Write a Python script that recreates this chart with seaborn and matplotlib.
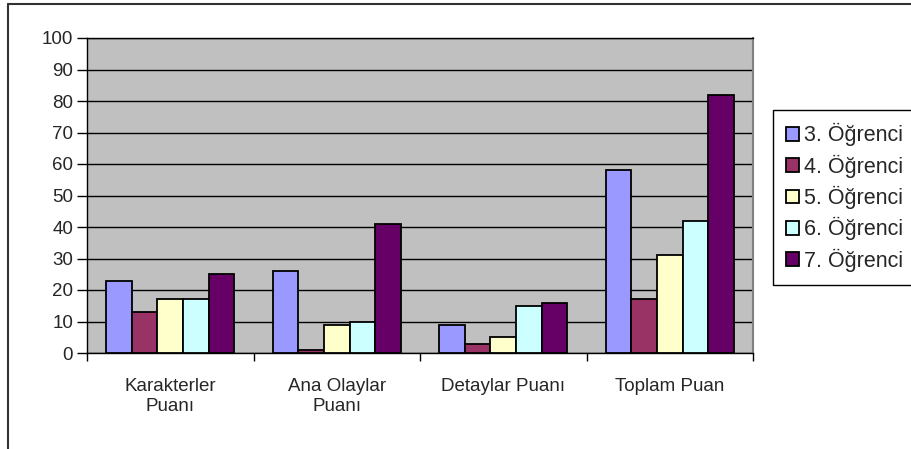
import matplotlib
matplotlib.use("Agg")
import matplotlib.pyplot as plt
from matplotlib.lines import Line2D
from matplotlib.ticker import FixedLocator
import pandas as pd
import seaborn as sns

categories = ["Karakterler\nPuanı", "Ana Olaylar\nPuanı", "Detaylar Puanı", "Toplam Puan"]
students = ["3. Öğrenci", "4. Öğrenci", "5. Öğrenci", "6. Öğrenci", "7. Öğrenci"]
student3 = [23, 26, 9, 58]
student4 = [13, 1, 3, 17]
student5 = [17, 9, 5, 31]
student6 = [17, 10, 15, 42]
student7 = [25, 41, 16, 82]
colors = ["#9999FF", "#993366", "#FFFFCC", "#CCFFFF", "#660066"]

rows = []
for name, vals in zip(students, [student3, student4, student5, student6, student7]):
    for cat, v in zip(categories, vals):
        rows.append({"Kategori": cat, "Öğrenci": name, "Puan": v})
df = pd.DataFrame(rows)

sns.set_style("white")
plt.rcParams["font.family"] = ["Liberation Sans", "DejaVu Sans"]

fig = plt.figure(figsize=(9.12, 4.49), dpi=100)
ax = fig.add_axes([87 / 912, 1 - 353 / 449, 666 / 912, 315 / 449])
ax.set_facecolor("#C0C0C0")

sns.barplot(data=df, x="Kategori", y="Puan", hue="Öğrenci", order=categories,
            hue_order=students, palette=colors, width=0.77, edgecolor="black",
            linewidth=1.3, saturation=1, ax=ax, zorder=3)

ax.set_ylim(0, 100)
ax.set_xlim(-0.5, 3.5)
ax.set_yticks(range(0, 101, 10))
ax.yaxis.grid(True, color="black", linewidth=1, zorder=1)
ax.set_axisbelow(True)
ax.set_xlabel("")
ax.set_ylabel("")

ax.tick_params(axis="y", which="major", direction="out", length=7, width=1,
               color="black", labelsize=13.5, pad=3, left=True)
ax.tick_params(axis="x", which="major", length=0, labelsize=13.5, pad=18)
ax.xaxis.set_minor_locator(FixedLocator([-0.5, 0.5, 1.5, 2.5, 3.5]))
ax.tick_params(axis="x", which="minor", direction="out", length=6, width=1,
               color="black", bottom=True)

for side in ["left", "bottom", "top"]:
    ax.spines[side].set_color("black")
    ax.spines[side].set_linewidth(1)
ax.spines["right"].set_color("#808080")
ax.spines["right"].set_linewidth(1.5)

handles, labels = ax.get_legend_handles_labels()
ax.legend_.remove()
leg = fig.legend(handles, labels, loc="upper left", bbox_to_anchor=(773 / 912, 1 - 110 / 449),
                 fontsize=15.5, frameon=True, fancybox=False, framealpha=1,
                 edgecolor="black", handlelength=0.6, handleheight=0.6,
                 handletextpad=0.2, labelspacing=0.38, borderpad=0.62,
                 borderaxespad=0)
leg.get_frame().set_linewidth(1)

# outer chart frame (left and top edges)
fig.add_artist(Line2D([8.5 / 912, 8.5 / 912], [0, 1 - 3.5 / 449], color="#333333", linewidth=1.5))
fig.add_artist(Line2D([8.5 / 912, 1], [1 - 3.5 / 449, 1 - 3.5 / 449], color="#333333", linewidth=1.5))

fig.savefig("out.png", dpi=100)
